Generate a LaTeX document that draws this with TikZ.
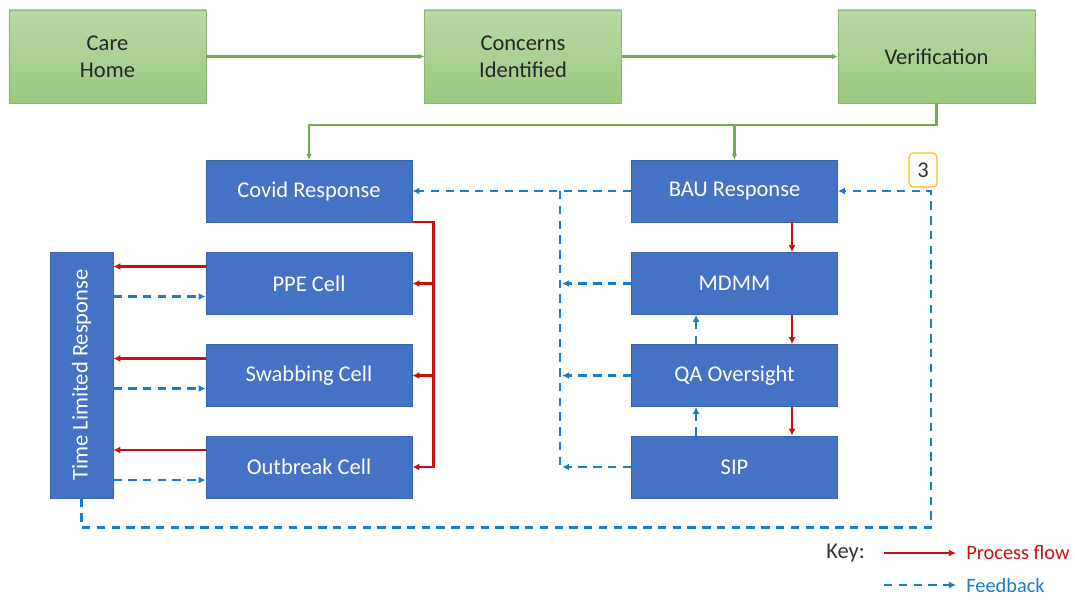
\documentclass[tikz,border=0pt]{standalone}
\usepackage{fontspec}
\setmainfont{Carlito}
\usepackage{tikz}
\usetikzlibrary{arrows.meta,calc}

\definecolor{boxblue}{HTML}{4472C4}
\definecolor{boxedge}{HTML}{3A62A8}
\definecolor{greentop}{HTML}{B9D8A5}
\definecolor{greenbot}{HTML}{9CC980}
\definecolor{greenline}{HTML}{70AD47}
\definecolor{flowred}{HTML}{C81010}
\definecolor{fbblue}{HTML}{1A7DCB}
\definecolor{tagorange}{HTML}{FFC000}

\begin{document}
\begin{tikzpicture}[x=0.025cm, y=-0.025cm,
		font=\fontsize{16}{19}\selectfont,
		greenbox/.style={top color=greentop, bottom color=greenbot, draw=greenbot!90!black, line width=0.3pt,
			minimum width=4.925cm, minimum height=2.325cm, align=center, text=black!85},
		bluebox/.style={fill=boxblue, draw=boxedge, line width=0.5pt, text=white,
			minimum width=5.15cm, minimum height=1.55cm},
		green arrow/.style={draw=greenline, line width=1.8pt, -{Latex[length=4pt,width=4pt]}},
		flow/.style={draw=flowred, line width=1.6pt, -{Latex[length=5pt,width=5pt]}},
		feedback/.style={draw=fbblue, line width=1.6pt, dash pattern=on 6pt off 4.5pt, -{Latex[length=5pt,width=5pt]}},
		fbline/.style={draw=fbblue, line width=1.6pt, dash pattern=on 6pt off 4.5pt},
		keytext/.style={anchor=west, inner sep=0pt, font=\fontsize{14.5}{17}\selectfont}]
	\useasboundingbox (0,0) rectangle (1075,601);
	
	% Top row
	\node[greenbox] (care) at (107.5,56.5) {Care\\Home};
	\node[greenbox] (concern) at (523,56.5) {Concerns\\Identified};
	\node[greenbox] (verif) at (936.5,56.5) {Verification};
	\draw[green arrow] (care) -- (concern);
	\draw[green arrow] (concern) -- (verif);
	
	% Response boxes
	\node[bluebox] (covid) at (309,191) {Covid Response};
	\node[bluebox] (bau) at (734.5,191) {BAU Response};
	\draw[green arrow] (verif.south) -- ++(0,22) coordinate (bend) -| (covid.north);
	\draw[green arrow] (bend -| bau.north) -- (bau.north);
	
	% Cells of the covid response
	\foreach \name/\txt/\y in {ppe/PPE Cell/283.5, swab/Swabbing Cell/375.5, outb/Outbreak Cell/467}
	\node[bluebox] (\name) at (309,\y) {\txt};
	
	% Steps of the BAU response
	\foreach \name/\txt/\y in {mdmm/MDMM/283.5, qa/QA Oversight/375.5, sip/SIP/467}
	\node[bluebox] (\name) at (734.5,\y) {\txt};
	
	\node[bluebox, minimum width=1.575cm, minimum height=6.15cm,
		label={[rotate=90, text=white]center:Time Limited Response}] (tlr) at (81.5,375) {};
	
	\node[draw=tagorange, line width=0.8pt, rounded corners=3pt, fill=white, text=black!80,
		minimum width=0.7cm, minimum height=0.85cm, inner sep=0pt] (tag) at (923,170) {3};
	
	% Process flow
	\draw[flow] (covid.south east) -- ++(21,0) coordinate (rbus) |- (outb.east);
	\foreach \c in {ppe,swab}
	\draw[flow] (rbus |- \c.east) -- (\c.east);
	
	\foreach \c in {ppe,swab,outb}
	\draw[flow] ($(\c.west)+(0,-17)$) coordinate (from\c) -- (from\c -| tlr.east);
	
	\draw[flow] ($(bau.south)+(57.5,0)$) coordinate (down) -- (down |- mdmm.north);
	\draw[flow] (down |- mdmm.south) -- (down |- qa.north);
	\draw[flow] (down |- qa.south) -- (down |- sip.north);
	
	% Feedback
	\foreach \c in {ppe,swab,outb}
	\draw[feedback] ($(\c.west)+(0,13)$) coordinate (to\c) ++(0,0) (to\c -| tlr.east) -- (to\c);
	
	\draw[feedback] (tlr.south) -- ++(0,29) -| ($(bau.east)+(93,0)$) -- (bau.east);
	\draw[feedback] (bau.west) -- (covid.east);
	
	\coordinate (lbus) at ($(bau.west)+(-71,0)$);
	\draw[fbline] (lbus) -- (lbus |- sip.west);
	\foreach \c in {mdmm,qa,sip}
	\draw[feedback] (\c.west) -- ($(\c.west -| lbus)+(2,0)$);
	
	\draw[feedback] ($(sip.north)+(-38.5,0)$) coordinate (up) -- (up |- qa.south);
	\draw[feedback] (up |- qa.north) -- (up |- mdmm.south);
	
	% Key
	\node[keytext, text=black!80, font=\fontsize{16}{19}\selectfont] (key) at (826,553) {Key:};
	\node[keytext, text=flowred] (kflow) at (966,553) {Process flow};
	\node[keytext, text=fbblue] (kfeed) at (966,585) {Feedback};
	\coordinate (kstart) at (884,553);
	\draw[flow] (kstart) -- ($(kflow.west)+(-10,0)$);
	\draw[feedback] (kstart |- kfeed.west) -- ($(kfeed.west)+(-10,0)$);
	
\end{tikzpicture}
\end{document}
